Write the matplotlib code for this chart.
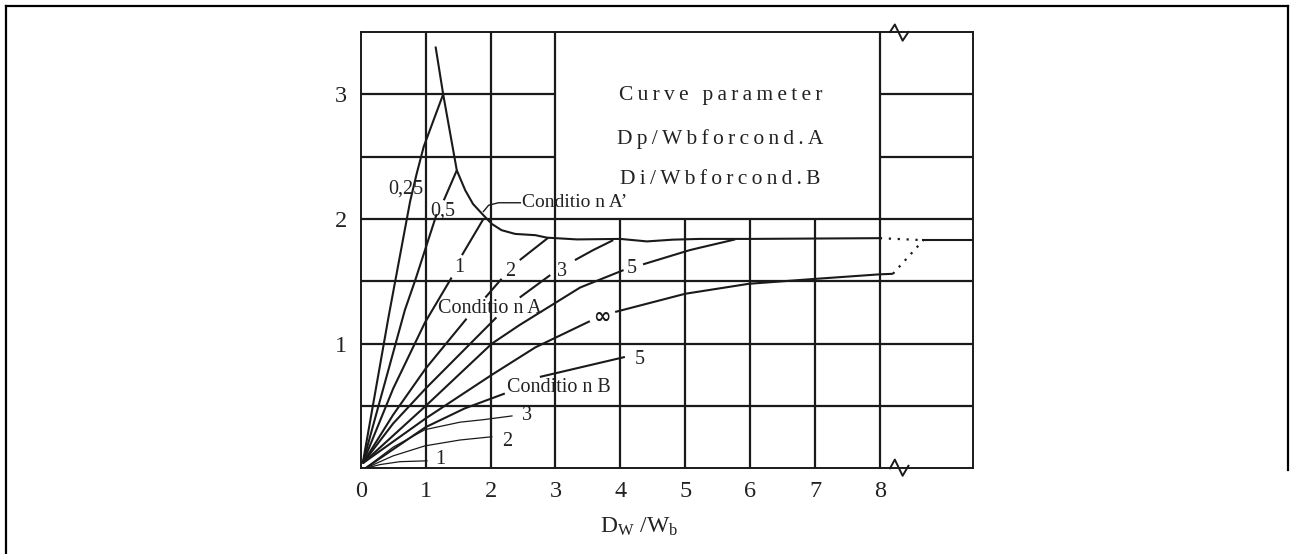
import matplotlib
matplotlib.use("Agg")
import matplotlib.pyplot as plt
from matplotlib.lines import Line2D
import matplotlib.transforms as mtransforms

plt.rcParams['font.family'] = ['Liberation Serif', 'DejaVu Serif', 'DejaVu Sans']
plt.rcParams['mathtext.fontset'] = 'custom'
plt.rcParams['mathtext.rm'] = 'Liberation Serif'
plt.rcParams['mathtext.it'] = 'Liberation Serif'

# axis limits (x axis is broken after 8)
x_max = 9.44
y_max = 3.5
x_ticks = [0, 1, 2, 3, 4, 5, 6, 7, 8]
y_ticks = [1, 2, 3]

# grid layout
grid_x_full = [1, 2, 3, 8]
grid_x_low = [4, 5, 6, 7]
grid_y_full = [0.5, 1.0, 1.5, 2.0]
grid_y_split = [2.5, 3.0]

# condition A curves (segments are broken where labels sit)
a025_x = [[0.03, 0.43, 0.76, 0.86, 0.97, 1.27]]
a025_y = [[0.04, 1.22, 2.14, 2.36, 2.58, 3.00]]
a05_x = [[0.03, 0.68, 0.84, 1.17], [1.28, 1.48]]
a05_y = [[0.04, 1.27, 1.51, 2.04], [2.15, 2.39]]
a1_x = [[0.03, 0.50, 0.99, 1.40], [1.56, 1.89]]
a1_y = [[0.04, 0.64, 1.17, 1.53], [1.71, 2.00]]
a2_x = [[0.03, 0.50, 1.00, 1.63], [1.92, 2.17], [2.45, 2.89]]
a2_y = [[0.04, 0.43, 0.80, 1.20], [1.37, 1.52], [1.67, 1.85]]
a3_x = [[0.03, 0.50, 1.00, 2.09], [2.45, 2.92], [3.30, 3.58, 3.89]]
a3_y = [[0.04, 0.36, 0.64, 1.21], [1.37, 1.55], [1.67, 1.75, 1.83]]
a5_x = [[0.03, 1.00, 2.02, 2.45, 2.76, 3.38, 4.05], [4.35, 5.07, 5.23, 5.77]]
a5_y = [[0.04, 0.50, 1.00, 1.15, 1.25, 1.45, 1.59], [1.636, 1.75, 1.77, 1.836]]
ainf_x = [[0.03, 1.00, 2.02, 2.69, 3.53], [3.92, 5.00, 5.98, 7.02, 8.00, 8.20]]
ainf_y = [[0.04, 0.40, 0.75, 0.97, 1.18], [1.254, 1.40, 1.48, 1.52, 1.556, 1.56]]
ainf_dot_x = [8.20, 8.67]
ainf_dot_y = [1.56, 1.83]

# condition A' limit curve
aprime_x = [1.155, 1.27, 1.48, 1.61, 1.73, 1.89, 2.02, 2.17, 2.38, 2.69, 2.87, 3.33,
            4.00, 4.41, 4.81, 5.23, 6.00, 8.00]
aprime_y = [3.375, 3.00, 2.39, 2.23, 2.12, 2.03, 1.96, 1.91, 1.88, 1.87, 1.85, 1.836,
            1.84, 1.82, 1.834, 1.84, 1.84, 1.846]
aprime_dot_x = [8.00, 8.67]
aprime_dot_y = [1.846, 1.83]
aprime_end_x = [8.67, x_max]
aprime_end_y = [1.83, 1.83]
leader_x = [1.89, 1.97, 2.12, 2.46]
leader_y = [2.06, 2.11, 2.13, 2.13]

# condition B curves
b1_x = [0.07, 0.30, 0.60, 1.02]
b1_y = [0.00, 0.03, 0.053, 0.06]
b2_x = [0.07, 0.50, 0.99, 1.53, 2.02]
b2_y = [0.00, 0.10, 0.18, 0.227, 0.253]
b3_x = [0.07, 0.50, 0.99, 1.53, 1.89, 2.33]
b3_y = [0.00, 0.17, 0.31, 0.37, 0.39, 0.42]
b5_x = [[0.07, 1.00, 1.60, 2.22], [2.76, 4.07]]
b5_y = [[0.00, 0.33, 0.48, 0.60], [0.733, 0.893]]

# labels: (text, x, y)
curve_labels = [("0,25", 0.70, 2.236), ("0,5", 1.263, 2.063), ("1", 1.52, 1.614),
                ("2", 2.30, 1.582), ("3", 3.10, 1.582), ("5", 4.18, 1.60),
                ("5", 4.30, 0.875), ("3", 2.56, 0.427), ("2", 2.25, 0.213),
                ("1", 1.22, 0.072)]
cond_labels = [("Conditio n A", 1.99, 1.28), ("Conditio n B", 3.06, 0.645)]
box_lines = ["Curve parameter", "Dp/Wbforcond.A", "Di/Wbforcond.B"]
box_y = [2.99, 2.645, 2.32]


def spaced(s):
    # letter-spaced text: thin space between letters, wider gap between words
    return "\u2009 \u2009".join("\u2009".join(w) for w in s.split(" "))


ink = '#1a1a1a'
fig = plt.figure(figsize=(12.94, 5.54), dpi=100)
ax = fig.add_axes([0.2788, 0.1547, 0.4734, 0.7876])
ax.set_xlim(0, x_max)
ax.set_ylim(0, y_max)
for s in ax.spines.values():
    s.set_linewidth(1.4)
    s.set_color(ink)

ax.set_xticks(x_ticks)
ax.set_yticks(y_ticks)
ax.set_xticklabels([str(t) for t in x_ticks])
ax.set_yticklabels([str(t) for t in y_ticks])
ax.tick_params(length=0, labelsize=17.5, colors='#222222')
ax.tick_params(axis='x', pad=9)
ax.tick_params(axis='y', pad=10)

# grid
ax.vlines(grid_x_full, 0, y_max, color=ink, lw=1.6)
ax.vlines(grid_x_low, 0, 2.0, color=ink, lw=1.6)
ax.hlines(grid_y_full, 0, x_max, color=ink, lw=1.6)
ax.hlines(grid_y_split, 0, 3, color=ink, lw=1.6)
ax.hlines(grid_y_split, 8, x_max, color=ink, lw=1.6)


def draw_segments(xs, ys, lw=1.5):
    for sx, sy in zip(xs, ys):
        ax.plot(sx, sy, color=ink, lw=lw, solid_capstyle='butt')


for cx, cy in [(a025_x, a025_y), (a05_x, a05_y), (a1_x, a1_y), (a2_x, a2_y),
               (a3_x, a3_y), (a5_x, a5_y), (ainf_x, ainf_y), (b5_x, b5_y)]:
    draw_segments(cx, cy)

ax.plot(aprime_x, aprime_y, color=ink, lw=1.5)
ax.plot(aprime_end_x, aprime_end_y, color=ink, lw=1.5)
ax.plot(aprime_dot_x, aprime_dot_y, color=ink, lw=1.6, ls=(0, (1, 3)))
ax.plot(ainf_dot_x, ainf_dot_y, color=ink, lw=1.6, ls=(0, (1, 3)))
ax.plot(leader_x, leader_y, color=ink, lw=1.0)

for bx, by in [(b1_x, b1_y), (b2_x, b2_y), (b3_x, b3_y)]:
    ax.plot(bx, by, color=ink, lw=0.9)

for txt, tx, ty in curve_labels:
    ax.text(tx, ty, txt, ha='center', va='center', fontsize=14.5, color='#222222')
for txt, tx, ty in cond_labels:
    ax.text(tx, ty, txt, ha='center', va='center', fontsize=14.5, color='#222222')
ax.text(2.48, 2.13, "Conditio n A\u2019", ha='left', va='center', fontsize=14,
        color='#222222')
ax.text(3.71, 1.214, "\u221e", ha='center', va='center', fontsize=15,
        fontweight='bold', family=['DejaVu Sans'], color=ink)

for txt, ty in zip(box_lines, box_y):
    ax.text(5.54, ty, spaced(txt), ha='center', va='center', fontsize=15.5,
            color='#222222')

# axis break marks
brk_x = [8.156, 8.23, 8.35, 8.44]
ax.plot(brk_x, [3.5, 3.56, 3.43, 3.5], color=ink, lw=1.4, clip_on=False)
ax.plot(brk_x, [0.0, 0.07, -0.06, 0.02], color=ink, lw=1.4, clip_on=False)

trans = mtransforms.blended_transform_factory(ax.transData, ax.transAxes)
ax.text(4.29, -0.135, r'$\mathregular{D_W\ /W_b}$', transform=trans,
        ha='center', va='center', fontsize=17, color='#222222')

# outer frame
fig.add_artist(Line2D([6 / 1294, 6 / 1294], [0, 1 - 6 / 554], color='black', lw=1.6))
fig.add_artist(Line2D([6 / 1294, 1288 / 1294], [1 - 6 / 554, 1 - 6 / 554], color='black', lw=1.6))
fig.add_artist(Line2D([1288 / 1294, 1288 / 1294], [1 - 6 / 554, 1 - 470 / 554], color='black', lw=1.6))

fig.savefig("out.png", dpi=100)
